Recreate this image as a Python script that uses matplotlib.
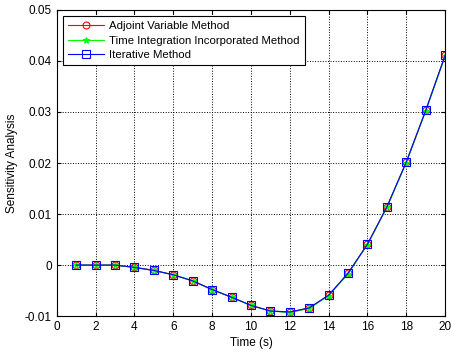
import matplotlib
matplotlib.use("Agg")
import matplotlib.pyplot as plt

plt.rcParams['font.family'] = ['Liberation Sans', 'DejaVu Sans']

time_s = [1, 2, 3, 4, 5, 6, 7, 8, 9, 10, 11, 12, 13, 14, 15, 16, 17, 18, 19, 20]
adjoint = [0.0, 0.0, 0.0, -0.00045, -0.00105, -0.0019, -0.0031, -0.0048, -0.0063, -0.0079,
           -0.0090, -0.0092, -0.0084, -0.0059, -0.0016, 0.0041, 0.0114, 0.0202, 0.0303, 0.0411]
time_integ = [0.0, 0.0, 0.0, -0.00045, -0.00105, -0.0019, -0.0031, -0.0048, -0.0063, -0.0079,
              -0.0090, -0.0093, -0.0085, -0.0060, -0.0017, 0.0040, 0.0113, 0.0201, 0.0302, 0.0409]
iterative = [0.0, 0.0, 0.0, -0.00045, -0.00105, -0.0019, -0.0031, -0.0048, -0.0063, -0.0079,
             -0.0090, -0.0092, -0.0084, -0.0059, -0.0016, 0.0041, 0.0114, 0.0202, 0.0303, 0.0411]

fig = plt.figure(figsize=(4.51, 3.54), dpi=100)
ax = fig.add_axes([0.126, 0.107, 0.861, 0.865])

ax.plot(time_s, adjoint, color='red', lw=0.8, marker='o', ms=5, mfc='none', mew=0.8,
        label='Adjoint Variable Method')
ax.plot(time_s, time_integ, color='#00ff00', lw=0.8, marker='*', ms=5, mew=0.8,
        label='Time Integration Incorporated Method')
ax.plot(time_s, iterative, color='blue', lw=0.8, marker='s', ms=6, mfc='none', mew=0.8,
        label='Iterative Method')

ax.set_xlim(0, 20)
ax.set_ylim(-0.01, 0.05)
ax.set_xticks(range(0, 21, 2))
ax.set_yticks([-0.01, 0, 0.01, 0.02, 0.03, 0.04, 0.05])
ax.set_yticklabels(['-0.01', '0', '0.01', '0.02', '0.03', '0.04', '0.05'])
ax.grid(True, linestyle=':', color='black', lw=0.7)
ax.tick_params(labelsize=8.5, direction='in', length=3, top=True, right=True)
ax.set_xlabel('Time (s)', fontsize=8.5, labelpad=3)
ax.set_ylabel('Sensitivity Analysis', fontsize=8.5, labelpad=5)

leg = ax.legend(loc='upper left', fontsize=8.2, fancybox=False, framealpha=1,
                edgecolor='black', borderaxespad=0.5, handlelength=3.2,
                labelspacing=0.42, borderpad=0.45, handletextpad=0.45)
leg.get_frame().set_linewidth(0.8)

fig.savefig('out.png', dpi=100)
